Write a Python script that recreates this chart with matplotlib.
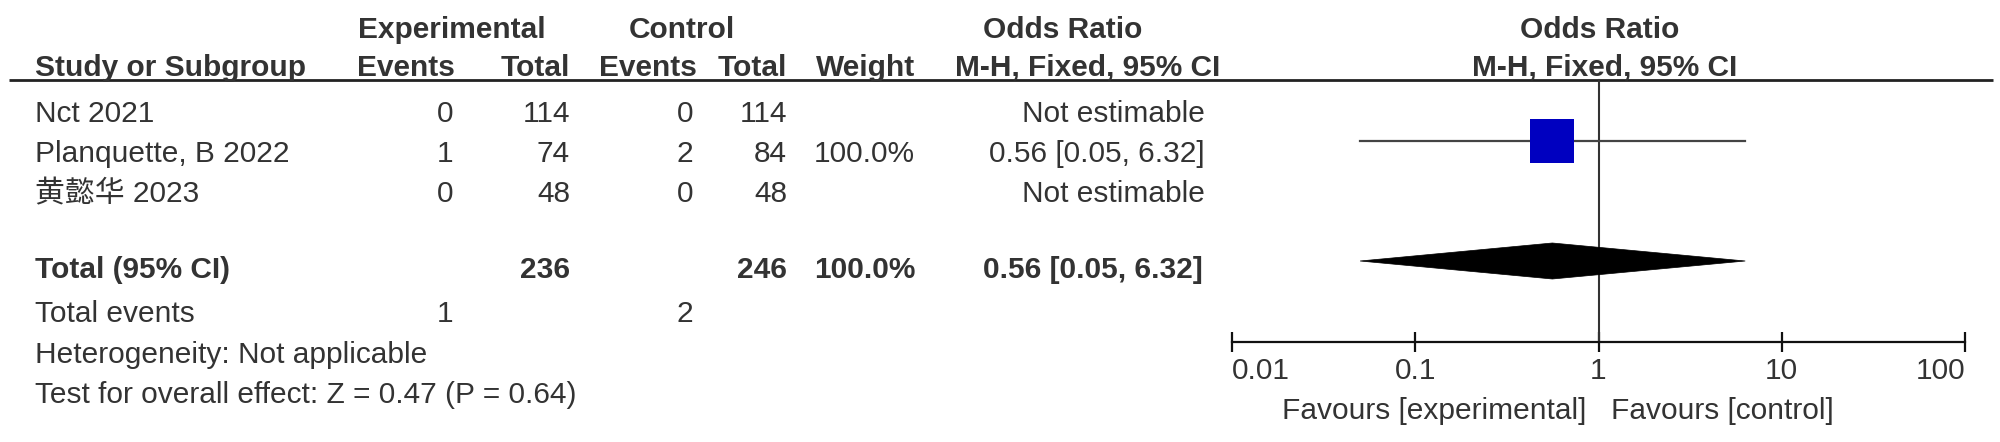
import matplotlib
matplotlib.use("Agg")
from matplotlib import pyplot as plt
from matplotlib.patches import Polygon
from matplotlib.ticker import FixedLocator, FixedFormatter, NullLocator

# study data
studies = ['Nct 2021', 'Planquette, B 2022', '黄懿华 2023']
exp_events = [0, 1, 0]
exp_total = [114, 74, 48]
ctrl_events = [0, 2, 0]
ctrl_total = [114, 84, 48]
weights = [None, 100.0, None]
or_est = [None, 0.56, None]
or_lo = [None, 0.05, None]
or_hi = [None, 6.32, None]

# pooled result
pooled_weight = 100.0
pooled_est = 0.56
pooled_lo = 0.05
pooled_hi = 6.32
heterogeneity = 'Heterogeneity: Not applicable'
overall_test = 'Test for overall effect: Z = 0.47 (P = 0.64)'

tick_vals = [0.01, 0.1, 1, 10, 100]
tick_labels = ['0.01', '0.1', '1', '10', '100']
favours = ['Favours [experimental]', 'Favours [control]']

FS = 21.5
TXT = '#333333'
FAM = ['Liberation Sans', 'Noto Sans CJK SC', 'DejaVu Sans']
plt.rcParams['font.family'] = FAM

fig = plt.figure(figsize=(20, 4.42), dpi=100)
ax = fig.add_axes([0, 0, 1, 1])
ax.set_xlim(0, 2000)
ax.set_ylim(442, 0)
ax.axis('off')


def put(x, y, s, ha='left', bold=False):
    ax.text(x, y, s, ha=ha, va='baseline', fontsize=FS, color=TXT,
            fontweight='bold' if bold else 'normal')


# headers
put(452, 38, 'Experimental', ha='center', bold=True)
put(682, 38, 'Control', ha='center', bold=True)
put(1063, 38, 'Odds Ratio', ha='center', bold=True)
put(1600, 38, 'Odds Ratio', ha='center', bold=True)
put(35, 76, 'Study or Subgroup', bold=True)
put(455, 76, 'Events', ha='right', bold=True)
put(570, 76, 'Total', ha='right', bold=True)
put(697, 76, 'Events', ha='right', bold=True)
put(787, 76, 'Total', ha='right', bold=True)
put(915, 76, 'Weight', ha='right', bold=True)
put(1220, 76, 'M-H, Fixed, 95% CI', ha='right', bold=True)
put(1605, 76, 'M-H, Fixed, 95% CI', ha='center', bold=True)
ax.plot([9, 1993], [80, 80], color='#222222', lw=2, solid_capstyle='butt')

row_y = [122, 162, 202]
for i, name in enumerate(studies):
    y = row_y[i]
    put(35, y, name)
    put(453, y, str(exp_events[i]), ha='right')
    put(570, y, str(exp_total[i]), ha='right')
    put(693, y, str(ctrl_events[i]), ha='right')
    put(787, y, str(ctrl_total[i]), ha='right')
    if weights[i] is not None:
        put(915, y, '%.1f%%' % weights[i], ha='right')
        put(1205, y, '%.2f [%.2f, %.2f]' % (or_est[i], or_lo[i], or_hi[i]), ha='right')
    else:
        put(1205, y, 'Not estimable', ha='right')

put(35, 278, 'Total (95% CI)', bold=True)
put(570, 278, str(sum(exp_total)), ha='right', bold=True)
put(787, 278, str(sum(ctrl_total)), ha='right', bold=True)
put(915, 278, '%.1f%%' % pooled_weight, ha='right', bold=True)
put(1203, 278, '%.2f [%.2f, %.2f]' % (pooled_est, pooled_lo, pooled_hi), ha='right', bold=True)
put(35, 322, 'Total events')
put(453, 322, str(sum(exp_events)), ha='right')
put(693, 322, str(sum(ctrl_events)), ha='right')
put(35, 363, heterogeneity)
put(35, 403, overall_test)

# forest panel
fax = fig.add_axes([1232 / 2000, 0, 733 / 2000, 1])
fax.set_xscale('log')
fax.set_xlim(0.01, 100)
fax.set_ylim(442, 0)
fax.patch.set_visible(False)
for s in ['top', 'left', 'right']:
    fax.spines[s].set_visible(False)
fax.spines['bottom'].set_position(('data', 342))
fax.spines['bottom'].set_linewidth(1.6)
fax.spines['bottom'].set_color('#111111')
fax.yaxis.set_visible(False)
fax.xaxis.set_major_locator(FixedLocator(tick_vals))
fax.xaxis.set_major_formatter(FixedFormatter(tick_labels))
fax.xaxis.set_minor_locator(NullLocator())
fax.tick_params(axis='x', direction='inout', length=14, width=1.6, color='#111111',
                labelsize=FS, labelcolor=TXT, pad=4)
labs = fax.get_xticklabels()
labs[0].set_ha('left')
labs[-1].set_ha('right')

fax.plot([1, 1], [80, 342], color='#333333', lw=1.5)

for i in range(len(studies)):
    if or_est[i] is None:
        continue
    y = 141
    fax.plot([or_lo[i], or_hi[i]], [y, y], color='#444444', lw=1.6, zorder=2)
    fax.plot([or_est[i]], [y], marker='s', markersize=32, color='#0000C0',
             markeredgewidth=0, zorder=3)

fax.add_patch(Polygon([(pooled_lo, 261), (pooled_est, 243), (pooled_hi, 261), (pooled_est, 279)],
                      closed=True, facecolor='black', edgecolor='black', lw=0.5, zorder=3))

fax.text(0.86, 419, favours[0], ha='right', va='baseline', fontsize=FS, color=TXT)
fax.text(1.17, 419, favours[1], ha='left', va='baseline', fontsize=FS, color=TXT)

fig.savefig('out.png', dpi=100)
